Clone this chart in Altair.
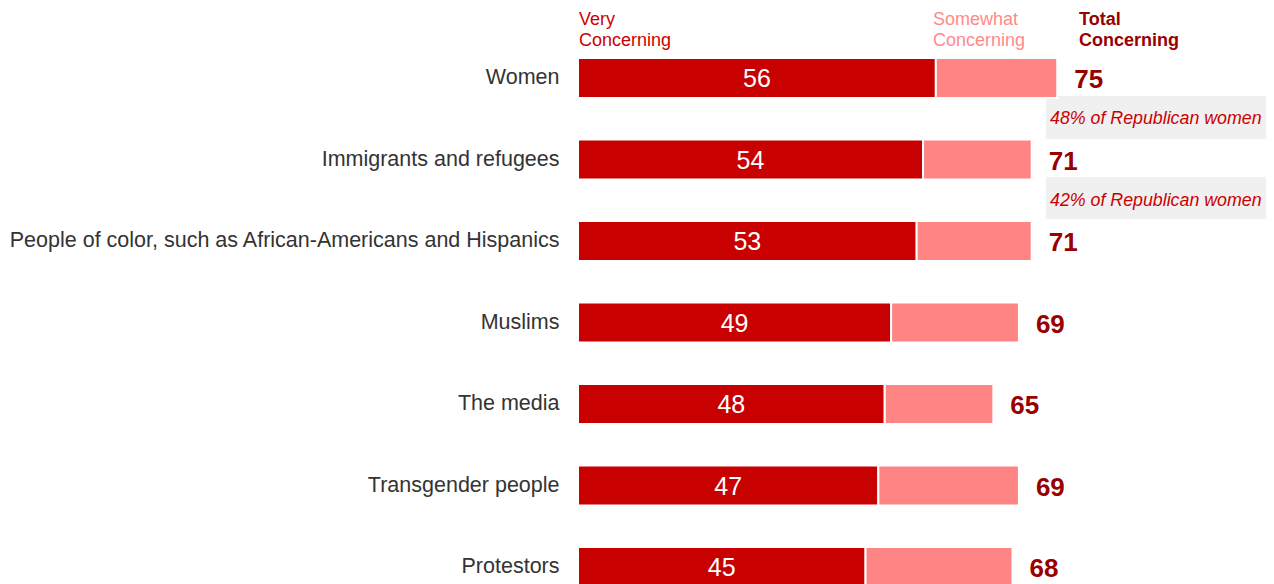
import altair as alt
import pandas as pd

categories = [
    "Women",
    "Immigrants and refugees",
    "People of color, such as African-Americans and Hispanics",
    "Muslims",
    "The media",
    "Transgender people",
    "Protestors",
]
very = [56, 54, 53, 49, 48, 47, 45]
total = [75, 71, 71, 69, 65, 69, 68]
annot_rows = ["Women", "Immigrants and refugees"]
annot_text = ["48% of Republican women", "42% of Republican women"]

FONT = "Liberation Sans"
C_VERY = "#c80000"
C_SOME = "#ff8585"
C_TOTAL = "#990000"

rows = []
for c, v, t in zip(categories, very, total):
    rows.append({"cat": c, "seg": "Very", "start": 0, "end": v})
    rows.append({"cat": c, "seg": "Somewhat", "start": v, "end": t})
seg_df = pd.DataFrame(rows)
lab_df = pd.DataFrame({"cat": categories, "very": very, "total": total})
ann_df = pd.DataFrame({"cat": annot_rows, "text": annot_text})
one = pd.DataFrame({"a": [0]})

STEP = 81.5
BAND = 40
PI = 1 - BAND / STEP
SPAN = STEP * (len(categories) - PI)

yscale = alt.Scale(domain=categories, range=[0, SPAN], paddingInner=PI, paddingOuter=0)
xscale = alt.Scale(domain=[0, 100], nice=False, zero=True)
y_enc = alt.Y(
    "cat:N",
    scale=yscale,
    axis=alt.Axis(
        title=None, domain=False, ticks=False, labelPadding=19,
        labelFontSize=21.5, labelColor="#333333", labelLimit=700, labelFont=FONT,
    ),
)

boxes = [
    alt.Chart(one).mark_rect(color="#f0f0f0").encode(
        x=alt.value(468), x2=alt.value(700), y=alt.value(38), y2=alt.value(81)
    ),
    alt.Chart(one).mark_rect(color="#f0f0f0").encode(
        x=alt.value(468), x2=alt.value(700), y=alt.value(119), y2=alt.value(161)
    ),
]

bars = alt.Chart(seg_df).mark_bar(stroke="white", strokeWidth=2).encode(
    x=alt.X("start:Q", scale=xscale, axis=None),
    x2="end:Q",
    y=y_enc,
    color=alt.Color(
        "seg:N",
        scale=alt.Scale(domain=["Very", "Somewhat"], range=[C_VERY, C_SOME]),
        legend=None,
    ),
)

very_lab = alt.Chart(lab_df).transform_calculate(mid="datum.very / 2").mark_text(
    color="white", fontSize=25, align="center", baseline="middle", font=FONT, dy=1
).encode(x=alt.X("mid:Q", scale=xscale, axis=None), y=y_enc, text="very:Q")

tot_lab = alt.Chart(lab_df).mark_text(
    color=C_TOTAL, fontSize=26, fontWeight="bold", align="left", baseline="middle",
    dx=17, dy=2, font=FONT,
).encode(x=alt.X("total:Q", scale=xscale, axis=None), y=y_enc, text="total:Q")

ann = alt.Chart(ann_df).mark_text(
    color="#cc0000", fontSize=17.8, fontStyle="italic", align="left",
    baseline="middle", dy=41, font=FONT,
).encode(x=alt.value(472), y=y_enc, text="text:N")

HEADER_BASELINES = [-33.5, -12]


def header(lines, xpos, color, weight="normal"):
    out = []
    for line, yb in zip(lines, HEADER_BASELINES):
        out.append(
            alt.Chart(one).mark_text(
                text=line, align="left", baseline="alphabetic", fontSize=18,
                color=color, fontWeight=weight, font=FONT,
            ).encode(x=alt.value(xpos), y=alt.value(yb))
        )
    return out


headers = (
    header(["Very", "Concerning"], 1, "#cc0000")
    + header(["Somewhat", "Concerning"], 355, "#ff8a8a")
    + header(["Total", "Concerning"], 501, C_TOTAL, "bold")
)

chart = alt.layer(
    *boxes, bars, very_lab, tot_lab, ann, *headers
).properties(
    width=639,
    height=518,
    padding={"left": 570, "top": 50, "right": 49, "bottom": 8},
    autosize=alt.AutoSizeParams(type="none"),
).configure_view(stroke=None)

chart.save("out.html", embed_options={"renderer": "svg", "actions": False})
